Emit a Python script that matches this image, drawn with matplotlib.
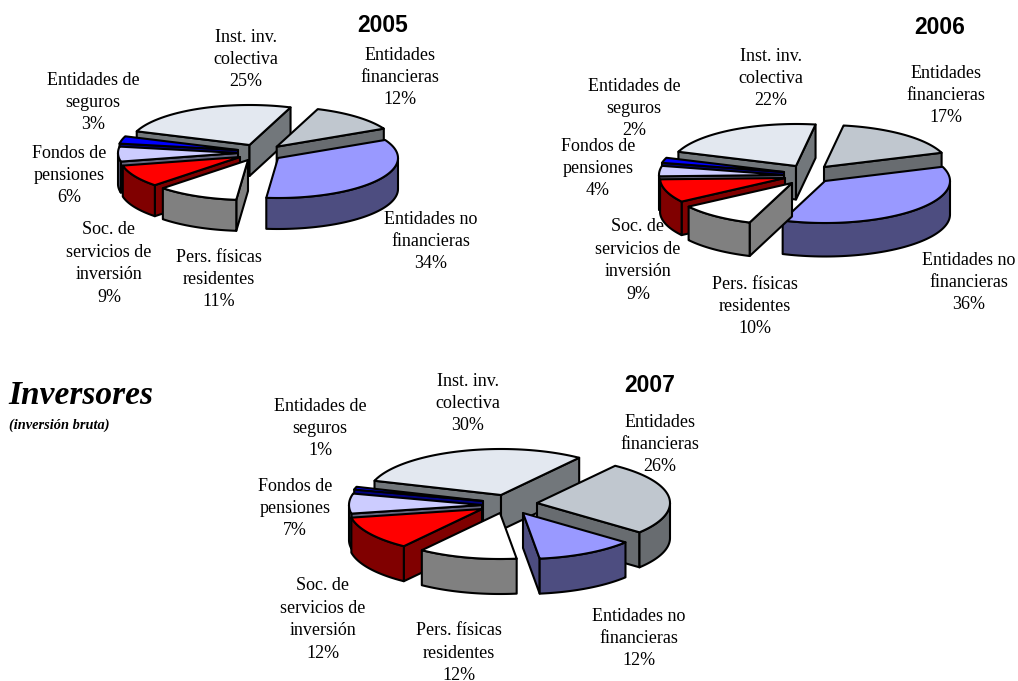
import numpy as np
import matplotlib
matplotlib.use("Agg")
import matplotlib.pyplot as plt
from matplotlib.patches import Polygon

# ---- data ----
series = ["fin", "nofin", "pers", "soc", "fondos", "seg", "inst"]
label_text = {
    "fin": "Entidades\nfinancieras",
    "nofin": "Entidades no\nfinancieras",
    "pers": "Pers. físicas\nresidentes",
    "soc": "Soc. de\nservicios de\ninversión",
    "fondos": "Fondos de\npensiones",
    "seg": "Entidades de\nseguros",
    "inst": "Inst. inv.\ncolectiva",
}
values_2005 = [12, 34, 11, 9, 6, 3, 25]
values_2006 = [17, 36, 10, 9, 4, 2, 22]
values_2007 = [26, 12, 12, 12, 7, 1, 30]

# ---- style ----
top_colors = dict(fin="#C0C7CF", nofin="#9999FF", pers="#FFFFFF", soc="#FF0000",
                  fondos="#CCCCFF", seg="#0000FF", inst="#E3E8F0")
wall_colors = dict(fin="#686C70", nofin="#4D4D80", pers="#808080", soc="#800000",
                   fondos="#666680", seg="#000080", inst="#72777B")
draw_order = ["inst", "fin", "seg", "fondos", "soc", "nofin", "pers"]

# ---- layout (pixels) ----
layouts = [
    dict(year="2005", values=values_2005, c=(252, 152), rx=120, ry=40, depth=31, start=20,
         title=(383, 24),
         off=dict(fin=(24.7, -5.3), nofin=(26, 6), pers=(-4, 8), soc=(-12, 5),
                  fondos=(-14, 1), seg=(-14, -2), inst=(-2.5, -7)),
         lab=dict(fin=(400, 76), nofin=(431, 240), pers=(219, 278), soc=(109, 262),
                  fondos=(69, 174), seg=(93, 101), inst=(246, 58))),
    dict(year="2006", values=values_2006, c=(797, 173), rx=125, ry=42, depth=33.5, start=9,
         title=(940, 26),
         off=dict(fin=(27, -6), nofin=(28, 8), pers=(-5, 10), soc=(-12, 5),
                  fondos=(-13, 2), seg=(-13, -1), inst=(-1, -7)),
         lab=dict(fin=(946, 94), nofin=(969, 281), pers=(755, 305), soc=(638, 259),
                  fondos=(598, 167), seg=(634, 107), inst=(771, 77))),
    dict(year="2007", values=values_2007, c=(500, 503), rx=133, ry=46, depth=35, start=36,
         title=(650, 385),
         off=dict(fin=(37, 0), nofin=(23, 10), pers=(0, 10), soc=(-18, 6),
                  fondos=(-18, 2), seg=(-17, -2), inst=(1, -8)),
         lab=dict(fin=(660, 443), nofin=(639, 637), pers=(459, 651.5), soc=(323, 618),
                  fondos=(295, 507), seg=(320, 427), inst=(468, 402))),
]

SERIF = "Liberation Serif"
LW = 1.5
LABEL_DY = 1.5

fig = plt.figure(figsize=(10.18, 6.81), dpi=100, facecolor="white")
ax = fig.add_axes([0, 0, 1, 1])
ax.set_xlim(0, 1018)
ax.set_ylim(681, 0)
ax.axis("off")


def patch(pts, color, z):
    ax.add_patch(Polygon(pts, closed=True, facecolor=color, edgecolor="black",
                         linewidth=LW, joinstyle="round", zorder=z))


def draw_pie(L):
    total = sum(L["values"])
    spans = {}
    a = L["start"]
    for name, v in zip(series, L["values"]):
        spans[name] = (a, a + 360.0 * v / total)
        a = spans[name][1]
    rx, ry, depth = L["rx"], L["ry"], L["depth"]
    z = 2.0
    for name in draw_order:
        t0, t1 = spans[name]
        ax0 = L["c"][0] + L["off"][name][0]
        ay0 = L["c"][1] + L["off"][name][1]

        def rim(t):
            r = np.radians(t)
            return np.column_stack([ax0 + rx * np.sin(r), ay0 - ry * np.cos(r)])

        down = np.array([0, depth])
        apex = np.array([ax0, ay0])
        wall = wall_colors[name]
        # radial walls that face the viewer
        if np.sin(np.radians(t0)) < 0:
            p = rim(np.array([t0]))[0]
            patch([apex, p, p + down, apex + down], wall, z); z += 0.01
        if np.sin(np.radians(t1)) > 0:
            p = rim(np.array([t1]))[0]
            patch([apex, p, p + down, apex + down], wall, z); z += 0.01
        # outer wall on the front half of the ellipse
        for lo, hi in ((90, 270), (450, 630)):
            a0, a1 = max(t0, lo), min(t1, hi)
            if a1 > a0:
                arc = rim(np.linspace(a0, a1, 60))
                patch(np.vstack([arc, arc[::-1] + down]), wall, z); z += 0.01
        # top surface
        arc = rim(np.linspace(t0, t1, 120))
        patch(np.vstack([apex, arc]), top_colors[name], z); z += 0.01

    for name, v in zip(series, L["values"]):
        x, y = L["lab"][name]
        ax.text(x, y + LABEL_DY, f"{label_text[name]}\n{v}%", ha="center", va="center",
                ma="center", family=SERIF, fontsize=13, linespacing=1.42,
                color="black", zorder=10)
    tx, ty = L["title"]
    ax.text(tx, ty + 1, L["year"], ha="center", va="center", family="Liberation Sans",
            fontweight="bold", fontsize=16.5, color="black", zorder=10)


for L in layouts:
    draw_pie(L)

ax.text(8, 395, "Inversores", ha="left", va="center", family=SERIF, fontweight="bold",
        fontstyle="italic", fontsize=24, color="black", zorder=10)
ax.text(9, 425, "(inversión bruta)", ha="left", va="center", family=SERIF, fontweight="bold",
        fontstyle="italic", fontsize=10.4, color="black", zorder=10)

fig.savefig("out.png", dpi=100, facecolor="white")
